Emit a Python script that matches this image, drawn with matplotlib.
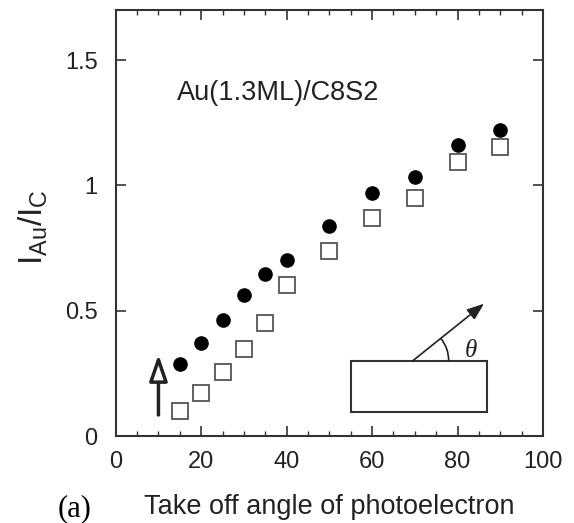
"""
Au/C intensity ratio vs photoelectron take off angle
"""

import math
import matplotlib
matplotlib.use('Agg')
import matplotlib.pyplot as plt
from matplotlib.patches import Rectangle, Arc, FancyArrowPatch

plt.rcParams['font.family'] = ['Liberation Sans', 'DejaVu Sans']
plt.rcParams['mathtext.fontset'] = 'custom'
plt.rcParams['mathtext.rm'] = 'Liberation Sans'
plt.rcParams['mathtext.it'] = 'Liberation Serif:italic'

# take off angles (degrees)
angles = [15, 20, 25, 30, 35, 40, 50, 60, 70, 80, 90]
# filled circles
ratio_filled = [0.288, 0.373, 0.464, 0.563, 0.648, 0.701, 0.837, 0.971, 1.033, 1.163, 1.221]
# open squares
ratio_open = [0.100, 0.171, 0.255, 0.348, 0.451, 0.601, 0.737, 0.868, 0.948, 1.095, 1.155]

x_ticks = [0, 20, 40, 60, 80, 100]
y_ticks = [0, 0.5, 1, 1.5]
y_tick_labels = ['0', '0.5', '1', '1.5']

fig = plt.figure(figsize=(5.74, 5.23), dpi=100)
ax = fig.add_axes([0.2016, 0.1663, 0.7444, 0.8147])

ax.plot(angles, ratio_open, linestyle='none', marker='s', markersize=12,
        markerfacecolor='white', markeredgecolor='#555555', markeredgewidth=1.3)
ax.plot(angles, ratio_filled, linestyle='none', marker='o', markersize=9.5,
        color='black')

ax.set_xlim(0, 100)
ax.set_ylim(0, 1.7)
ax.set_xticks(x_ticks)
ax.set_xticks(range(0, 101, 5), minor=True)
ax.set_yticks(y_ticks)
ax.set_yticklabels(y_tick_labels)

ax.tick_params(which='both', direction='in', top=True, right=True,
               color='#333333', labelsize=17, labelcolor='#222222')
ax.tick_params(which='major', length=7, width=1.2)
ax.tick_params(which='minor', length=3.5, width=1)
ax.tick_params(axis='x', pad=11)
ax.tick_params(axis='y', pad=13)
for s in ax.spines.values():
    s.set_linewidth(1.5)
    s.set_color('#333333')

ax.set_xlabel('Take off angle of photoelectron', fontsize=19.5, color='#222222', labelpad=15)
fig.text(0.058, 0.566, r'$\mathregular{I_{Au}/I_{C}}$', rotation=90,
         fontsize=24, color='#222222', ha='center', va='center')
fig.text(0.13, 0.027, '(a)', family='Liberation Serif', fontsize=22,
         ha='center', va='center')

ax.text(14.4, 1.368, 'Au(1.3ML)/C8S2', fontsize=19.5, color='#222222', va='center')

# incidence arrow (open head)
ax.add_patch(FancyArrowPatch((10, 0.084), (10, 0.325),
                             arrowstyle='-|>,head_length=16,head_width=5.5',
                             lw=2.5, edgecolor='#222222', facecolor='white',
                             mutation_scale=1.0, shrinkA=0, shrinkB=0))

# sample sketch
ax.add_patch(Rectangle((55.0, 0.095), 32.0, 0.205, fill=False,
                       edgecolor='#333333', lw=1.5))
origin = (69.5, 0.30)
tip = (86.2, 0.528)
ax.add_patch(FancyArrowPatch(origin, tip,
                             arrowstyle='-|>,head_length=8,head_width=3',
                             lw=1.2, color='#222222', mutation_scale=1.3,
                             shrinkA=0, shrinkB=0))
arc_end = math.degrees(math.atan2(tip[1] - origin[1], tip[0] - origin[0]))
ax.add_patch(Arc(origin, 2 * 36 / 4.273, 2 * 36 / 250.6, theta1=0, theta2=arc_end,
                 lw=1.2, color='#222222'))
ax.text(83, 0.344, r'$\theta$', fontsize=18, color='#222222', ha='center', va='center')

plt.savefig('out.png', dpi=100)
